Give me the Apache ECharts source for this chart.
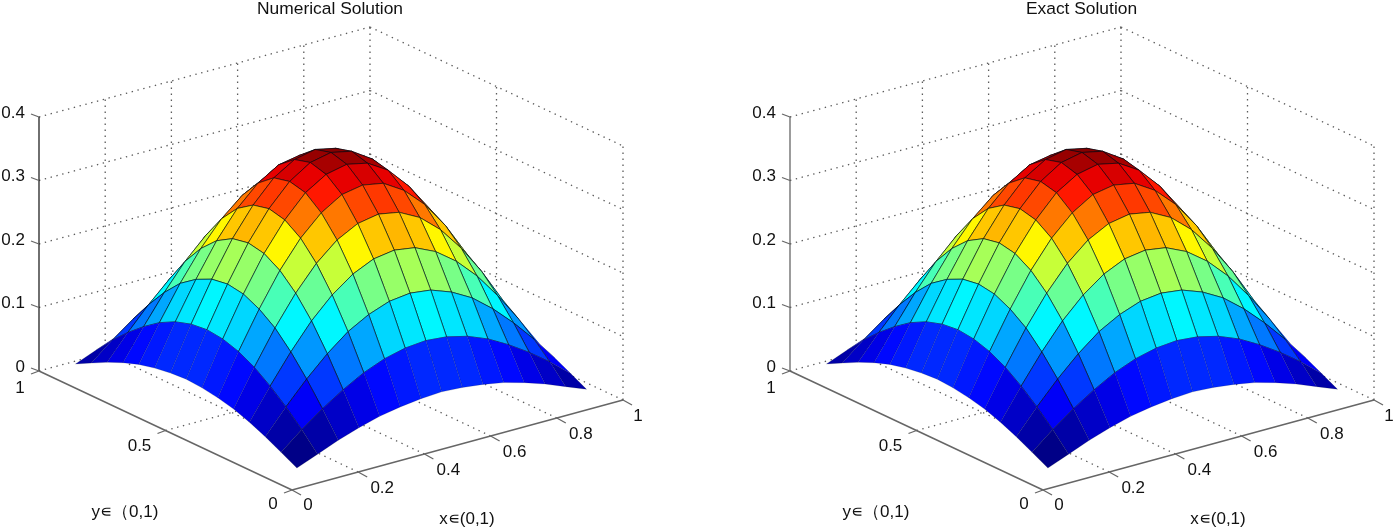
<!DOCTYPE html>
<html><head><meta charset="utf-8">
<style>html,body{margin:0;padding:0;background:#fff}#c{width:1395px;height:531px}</style>
<script src="https://cdn.jsdelivr.net/npm/echarts@6/dist/echarts.min.js"></script>
</head><body><div id="c"></div>
<script>
const titles = ['Numerical Solution', 'Exact Solution'];
const xTicks = [0, 0.2, 0.4, 0.6, 0.8, 1];
const yTicks = [0, 0.5, 1];
const zTicks = [0, 0.1, 0.2, 0.3, 0.4];
const xName = 'x∊(0,1)';
const yName = 'y∊（0,1)';
const meshX = [0.0625,0.125,0.1875,0.25,0.3125,0.375,0.4375,0.5,0.5625,0.625,0.6875,0.75,0.8125,0.875,0.9375];
const meshY = meshX;
const numericalZ = [
[.014,.027,.040,.051,.060,.066,.070,.072,.070,.066,.060,.051,.040,.027,.014],
[.027,.054,.078,.099,.117,.130,.138,.141,.138,.130,.117,.099,.078,.054,.027],
[.040,.078,.113,.144,.170,.188,.200,.204,.200,.188,.170,.144,.113,.078,.040],
[.051,.099,.144,.184,.216,.240,.255,.260,.255,.240,.216,.184,.144,.099,.051],
[.060,.117,.170,.216,.254,.282,.299,.305,.299,.282,.254,.216,.170,.117,.060],
[.066,.130,.188,.240,.282,.313,.333,.339,.333,.313,.282,.240,.188,.130,.066],
[.070,.138,.200,.255,.299,.333,.353,.360,.353,.333,.299,.255,.200,.138,.070],
[.072,.141,.204,.260,.305,.339,.360,.367,.360,.339,.305,.260,.204,.141,.072],
[.070,.138,.200,.255,.299,.333,.353,.360,.353,.333,.299,.255,.200,.138,.070],
[.066,.130,.188,.240,.282,.313,.333,.339,.333,.313,.282,.240,.188,.130,.066],
[.060,.117,.170,.216,.254,.282,.299,.305,.299,.282,.254,.216,.170,.117,.060],
[.051,.099,.144,.184,.216,.240,.255,.260,.255,.240,.216,.184,.144,.099,.051],
[.040,.078,.113,.144,.170,.188,.200,.204,.200,.188,.170,.144,.113,.078,.040],
[.027,.054,.078,.099,.117,.130,.138,.141,.138,.130,.117,.099,.078,.054,.027],
[.014,.027,.040,.051,.060,.066,.070,.072,.070,.066,.060,.051,.040,.027,.014]];
const exactZ = numericalZ;
const Z_MIN = .014, Z_MAX = .367;

// MATLAB-style jet colormap, 64 steps
function jetColor(t){
  const k = Math.min(63, Math.max(0, Math.floor(t*64)));
  const v = (k+.5)/64;
  const c = x => Math.round(255*Math.max(0, Math.min(1, 1.5 - Math.abs(4*v - x))));
  return 'rgb('+c(3)+','+c(2)+','+c(1)+')';
}

// Orthographic projection of the unit box (view units; the grid's axes place them on the page)
const proj = (x, y, z) => [331*x - 253*y, 90*x + 119*y + 635*z];

const FONT = 'Liberation Sans, Arial, sans-serif';
const GRID = '#5c5c5c', AXIS = '#666';

function cellData(zs){
  const out = [];
  for (let j = meshY.length - 2; j >= 0; j--)
    for (let i = meshX.length - 2; i >= 0; i--) out.push([i, j, zs[j][i]]);
  return out;
}
function surfaceSeries(idx, zs){
  return {type:'custom', xAxisIndex:idx, yAxisIndex:idx, coordinateSystem:'cartesian2d', silent:true, clip:false, z:3,
    data: cellData(zs), encode:{x:0,y:1},
    renderItem(params, api){
      const i = api.value(0), j = api.value(1);
      const corners = [[i,j],[i+1,j],[i+1,j+1],[i,j+1]].map(([a,b]) => api.coord(proj(meshX[a], meshY[b], zs[b][a])));
      const t = (api.value(2)-Z_MIN)/(Z_MAX-Z_MIN);
      const outer = i===0 || j===0 || i===meshX.length-2 || j===meshY.length-2;
      const a = outer ? .16 : .6;
      return {type:'polygon', shape:{points:corners}, style:{fill:jetColor(t), stroke:'rgba(0,10,20,'+a+')', lineWidth:1}};
    }};
}
function segs(){
  const s = [];
  const add = (a,b,kind)=>s.push([a,b,kind]);
  zTicks.forEach(z=>{ if(z>0){ add([0,1,z],[1,1,z],'g'); add([1,1,z],[1,0,z],'g'); } });
  xTicks.forEach(x=>{ if(x>0){ add([x,0,0],[x,1,0],'g'); add([x,1,0],[x,1,.4],'g'); } });
  yTicks.forEach(y=>{ if(y>0) add([0,y,0],[1,y,0],'g'); if(y<1) add([1,y,0],[1,y,.4],'g'); });
  add([0,1,0],[0,1,.4],'z');
  add([0,0,0],[1,0,0],'a');
  add([0,0,0],[0,1,0],'a');
  return s;
}
function boxSeries(idx, zColor){
  return {type:'custom', xAxisIndex:idx, yAxisIndex:idx, coordinateSystem:'cartesian2d', silent:true, clip:false, z:1,
    data: segs().map((s,k)=>[k,0]), encode:{x:0,y:1},
    renderItem(params, api){
      const [a,b,k] = segs()[api.value(0)];
      const p = api.coord(proj(...a)), q = api.coord(proj(...b));
      const style = k==='g' ? {stroke:GRID, lineWidth:1.3, lineDash:[1.4,4.6]}
        : k==='z' ? {stroke:zColor, lineWidth:1.3} : {stroke:AXIS, lineWidth:1.5};
      return {type:'line', shape:{x1:p[0],y1:p[1],x2:q[0],y2:q[1]}, style};
    }};
}
function tickItems(){
  const t = [];
  zTicks.forEach(z=>t.push({at:[0,1,z], d:[-8,-3], l:[-14,-4], txt:String(z), align:'right'}));
  yTicks.forEach(y=>t.push({at:[0,y,0], d:[-8,3], l:y===1?[-19,17]:y===0?[-19,14]:[-26,16], txt:String(y), align:'center'}));
  xTicks.forEach(x=>t.push({at:[x,0,0], d:[9,5], l:x===0?[16,15]:x===1?[15,16]:[24,16], txt:String(x), align:'center'}));
  return t;
}
function tickSeries(idx){
  return {type:'custom', xAxisIndex:idx, yAxisIndex:idx, coordinateSystem:'cartesian2d', silent:true, clip:false, z:2,
    data: tickItems().map((t,k)=>[k,0]), encode:{x:0,y:1},
    renderItem(params, api){
      const t = tickItems()[api.value(0)];
      const p = api.coord(proj(...t.at));
      return {type:'group', children:[
        {type:'line', shape:{x1:p[0],y1:p[1],x2:p[0]+t.d[0],y2:p[1]+t.d[1]}, style:{stroke:AXIS, lineWidth:1.3}},
        {type:'text', style:{x:p[0]+t.l[0], y:p[1]+t.l[1], text:t.txt, fill:'#111', font:'17px '+FONT, align:t.align, verticalAlign:'middle'}}
      ]};
    }};
}
const shift = 751;
const grids = [
  {left:0, top:0, width:700, height:531},
  {left:shift, top:0, width:644, height:531}
];
const xAxes = [
  {gridIndex:0, type:'value', min:-292, max:408, show:false},
  {gridIndex:1, type:'value', min:-292, max:352, show:false}
];
const yAxes = [0,1].map(g=>({gridIndex:g, type:'value', min:-41, max:490, show:false}));
const titleStyle = {fontFamily:FONT, fontSize:17.4, fontWeight:'normal', color:'#111'};

const chart = echarts.init(document.getElementById('c'), null, {renderer:'canvas'});
chart.setOption({
  animation:false, backgroundColor:'#fff',
  title:[
    {text:titles[0], left:330, top:1, padding:0, textAlign:'center', textStyle:titleStyle},
    {text:titles[1], left:1081.5, top:1, padding:0, textAlign:'center', textStyle:titleStyle}
  ],
  grid:grids, xAxis:xAxes, yAxis:yAxes,
  graphic:[
    {type:'text', x:125, y:512, style:{text:yName, font:'17px '+FONT, fill:'#111', align:'center', verticalAlign:'middle'}},
    {type:'text', x:467, y:519, style:{text:xName, font:'17px '+FONT, fill:'#111', align:'center', verticalAlign:'middle'}},
    {type:'text', x:125+shift, y:512, style:{text:yName, font:'17px '+FONT, fill:'#111', align:'center', verticalAlign:'middle'}},
    {type:'text', x:467+shift, y:519, style:{text:xName, font:'17px '+FONT, fill:'#111', align:'center', verticalAlign:'middle'}}
  ],
  series:[
    boxSeries(0,'#222'), tickSeries(0), surfaceSeries(0,numericalZ),
    boxSeries(1,'#666'), tickSeries(1), surfaceSeries(1,exactZ)
  ]
});
</script></body></html>
